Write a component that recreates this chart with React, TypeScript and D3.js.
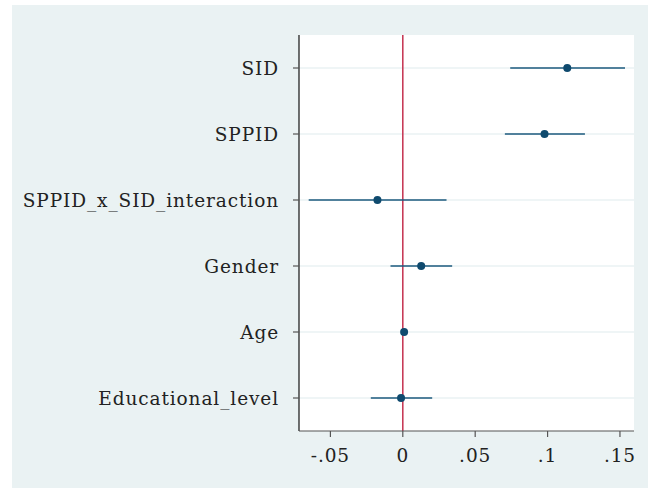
import React from "react";
import * as d3 from "d3";

// coefficient estimates with 95% CIs
const terms = ["SID", "SPPID", "SPPID_x_SID_interaction", "Gender", "Age", "Educational_level"];
const estimates = [0.1136, 0.0979, -0.0175, 0.0127, 0.0009, -0.0012];
const lower = [0.0742, 0.0705, -0.065, -0.0085, 0.0003, -0.0221];
const upper = [0.1535, 0.1258, 0.0302, 0.0341, 0.0015, 0.0203];
const xTicks = [-0.05, 0, 0.05, 0.1, 0.15];
const xTickLabels = ["-.05", "0", ".05", ".1", ".15"];

const W = 648;
const H = 488;
const margin = { top: 35, right: 14, bottom: 57, left: 299 };

export default function App() {
  const x = d3
    .scaleLinear()
    .domain([-0.0717, 0.1597])
    .range([margin.left, W - margin.right]);

  const y = d3
    .scalePoint()
    .domain(terms)
    .range([margin.top, H - margin.bottom])
    .padding(0.5);

  const font = "'DejaVu Serif', serif";
  const navy = "#0f4a6e";
  const plotBottom = H - margin.bottom;

  return (
    <svg
      width={W}
      height={H}
      style={{ position: "absolute", left: 0, top: 0, background: "#fff" }}
    >
      {/* outer background */}
      <rect x={12} y={5} width={W - 12} height={H - 5} fill="#eaf2f3" />
      {/* plot area */}
      <rect
        x={margin.left}
        y={margin.top}
        width={W - margin.right - margin.left}
        height={plotBottom - margin.top}
        fill="#fff"
      />

      {/* gridlines */}
      {terms.map((t) => (
        <line
          key={"g" + t}
          x1={margin.left}
          x2={W - margin.right}
          y1={y(t)}
          y2={y(t)}
          stroke="#eaf2f3"
          strokeWidth={1.5}
        />
      ))}

      {/* zero reference line */}
      <line
        x1={x(0)}
        x2={x(0)}
        y1={margin.top}
        y2={plotBottom}
        stroke="#c4314f"
        strokeWidth={1.5}
      />

      {/* CIs and point estimates */}
      {terms.map((t, i) => (
        <g key={"p" + t}>
          <line
            x1={x(lower[i])}
            x2={x(upper[i])}
            y1={y(t)}
            y2={y(t)}
            stroke="#1c5a7e"
            strokeWidth={1.6}
          />
          <circle cx={x(estimates[i])} cy={y(t)} r={4} fill={navy} />
        </g>
      ))}

      {/* y axis */}
      <line
        x1={margin.left}
        x2={margin.left}
        y1={margin.top}
        y2={plotBottom}
        stroke="#111"
        strokeWidth={1.2}
      />
      {terms.map((t) => (
        <g key={"y" + t}>
          <line
            x1={margin.left - 6}
            x2={margin.left}
            y1={y(t)}
            y2={y(t)}
            stroke="#555"
            strokeWidth={1.2}
          />
          <text
            x={margin.left - 20}
            y={y(t) + 6.5}
            textAnchor="end"
            fontFamily={font}
            fontSize={18.5}
            letterSpacing={0.9}
            fill="#222"
          >
            {t}
          </text>
        </g>
      ))}

      {/* x axis */}
      <line
        x1={margin.left}
        x2={W - margin.right}
        y1={plotBottom}
        y2={plotBottom}
        stroke="#555"
        strokeWidth={1.2}
      />
      {xTicks.map((v, i) => (
        <g key={"x" + v}>
          <line
            x1={x(v)}
            x2={x(v)}
            y1={plotBottom}
            y2={plotBottom + 6}
            stroke="#555"
            strokeWidth={1.2}
          />
          <text
            x={x(v)}
            y={plotBottom + 31}
            textAnchor="middle"
            fontFamily={font}
            fontSize={18.5}
            letterSpacing={0.9}
            fill="#222"
          >
            {xTickLabels[i]}
          </text>
        </g>
      ))}
    </svg>
  );
}
